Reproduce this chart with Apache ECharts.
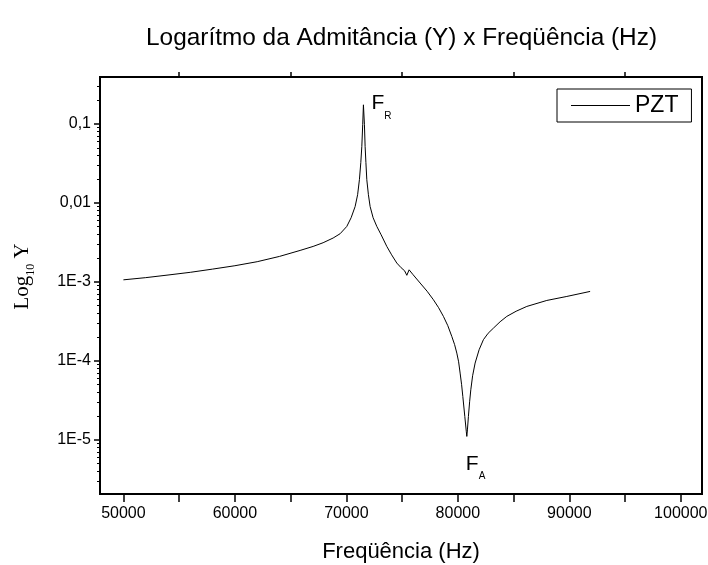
<!DOCTYPE html>
<html>
<head>
<meta charset="utf-8">
<script src="https://cdn.jsdelivr.net/npm/echarts@6/dist/echarts.min.js"></script>
<style>html,body{margin:0;padding:0;background:#fff}#c{width:708px;height:565px}</style>
</head>
<body>
<div id="c"></div>
<script>
// Frequency (Hz)
const freq = [50000, 52000, 54000, 56000, 58000, 60000, 62000, 64000, 65850, 67017, 67914, 68811, 69439, 70040, 70426, 70785, 71009, 71170, 71295, 71385, 71466, 71530, 71619, 71681, 71753, 71833, 71977, 72130, 72399, 72730, 73116, 73627, 74058, 74524, 74910, 75224, 75422, 75628, 75987, 76615, 77243, 77808, 78274, 78705, 79100, 79459, 79710, 79907, 80068, 80203, 80337, 80445, 80624, 80759, 80804, 80858, 80947, 81055, 81162, 81324, 81548, 81907, 82293, 82715, 83190, 83790, 84392, 85226, 86186, 87980, 89774, 91864];
// Admittance Y (PZT)
const admittance = [1.06e-3, 1.13e-3, 1.22e-3, 1.32e-3, 1.45e-3, 1.6e-3, 1.8e-3, 2.1e-3, 2.5e-3, 2.81e-3, 3.13e-3, 3.59e-3, 4.07e-3, 5.04e-3, 6.49e-3, 9.0e-3, 0.0127, 0.0197, 0.0324, 0.052, 0.098, 0.175, 0.098, 0.052, 0.0324, 0.0197, 0.0127, 9.0e-3, 6.49e-3, 5.04e-3, 3.95e-3, 2.81e-3, 2.2e-3, 1.73e-3, 1.51e-3, 1.38e-3, 1.21e-3, 1.42e-3, 1.23e-3, 9.66e-4, 7.6e-4, 5.93e-4, 4.7e-4, 3.65e-4, 2.78e-4, 2.03e-4, 1.6e-4, 1.25e-4, 9.7e-5, 6.98e-5, 4.97e-5, 3.53e-5, 1.97e-5, 1.26e-5, 1.1e-5, 1.33e-5, 1.97e-5, 3.02e-5, 4.29e-5, 6.46e-5, 9.35e-5, 1.38e-4, 1.85e-4, 2.23e-4, 2.59e-4, 3.12e-4, 3.65e-4, 4.24e-4, 4.88e-4, 5.81e-4, 6.53e-4, 7.56e-4];
const seriesName = 'PZT';
// Axis ticks
const xLabelValues = [50000, 60000, 70000, 80000, 90000, 100000];
const xTickValues = [50000, 55000, 60000, 65000, 70000, 75000, 80000, 85000, 90000, 95000, 100000];
const xTopTickValues = [55000, 65000, 75000, 85000, 95000];
const yMajorValues = [1e-5, 1e-4, 1e-3, 1e-2, 1e-1];
const yTickLabels = ['1E-5', '1E-4', '1E-3', '0,01', '0,1'];
const xMin = 47900, xMax = 101900, yMin = 2.05e-6, yMax = 0.394;
// Annotated points
const resonance = [71530, 0.175];
const antiresonance = [80804, 1.1e-5];

const yMinorValues = [];
for (let d = -6; d <= -1; d++) {
  for (let k = 2; k <= 9; k++) {
    const v = k * Math.pow(10, d);
    if (v > yMin && v < yMax) yMinorValues.push(Number(v.toPrecision(3)));
  }
}
const data = freq.map((f, i) => [f, admittance[i]]);
const FONT = '"Liberation Sans", Arial, sans-serif';
const SERIF = '"Liberation Serif", "Times New Roman", serif';

const chart = echarts.init(document.getElementById('c'), null, {renderer: 'canvas'});
chart.setOption({
  animation: false,
  backgroundColor: '#fff',
  title: {
    text: 'Logarítmo da Admitância (Y) x Freqüência (Hz)',
    left: 141, top: 21,
    textStyle: {fontFamily: FONT, fontSize: 24.4, fontWeight: 'normal', color: '#000'}
  },
  legend: {
    data: [seriesName],
    left: 557, top: 89,
    orient: 'vertical',
    itemWidth: 59, itemHeight: 14, itemGap: 0,
    padding: [5, 13, 5, 14],
    borderColor: '#000', borderWidth: 1,
    textStyle: {fontFamily: FONT, fontSize: 23, color: '#000'},
    icon: 'path://M0,0 L59,0 L59,1 L0,1 Z',
    itemStyle: {color: '#000'}
  },
  grid: {left: 100, top: 77, right: 6, bottom: 71, show: true, borderColor: '#000', borderWidth: 2, backgroundColor: 'transparent', containLabel: false, outerBoundsMode: 'none'},
  xAxis: [{
    type: 'value', position: 'bottom', min: xMin, max: xMax,
    name: 'Freqüência (Hz)', nameLocation: 'middle', nameGap: 47,
    nameTextStyle: {fontFamily: FONT, fontSize: 22, color: '#000'},
    axisLine: {show: false},
    axisTick: {show: true, customValues: xTickValues, length: 8, lineStyle: {color: '#000', width: 1.5}},
    axisLabel: {customValues: xLabelValues, formatter: v => String(v), fontFamily: FONT, fontSize: 16, color: '#000', margin: 12},
    splitLine: {show: false}
  }, {
    type: 'value', position: 'top', min: xMin, max: xMax,
    axisLine: {show: false},
    axisTick: {show: true, customValues: xTopTickValues, length: 5, lineStyle: {color: '#000', width: 1.5}},
    axisLabel: {show: false},
    splitLine: {show: false}
  }],
  yAxis: [{
    type: 'log', logBase: 10, position: 'left', min: yMin, max: yMax,
    name: '{p|}{a|Log}{b|10}{a| Y}', nameLocation: 'middle', nameGap: 63,
    nameTextStyle: {
      fontFamily: SERIF, color: '#000',
      rich: {
        a: {fontFamily: SERIF, fontSize: 21, color: '#000', lineHeight: 25, verticalAlign: 'top'},
        b: {fontFamily: SERIF, fontSize: 12, color: '#000', lineHeight: 25, verticalAlign: 'bottom'},
        p: {width: 18, lineHeight: 25}
      }
    },
    axisLine: {show: false},
    axisTick: {show: true, customValues: yMajorValues, length: 6, lineStyle: {color: '#000', width: 1.5}},
    axisLabel: {
      customValues: yMajorValues,
      formatter: v => {
        const i = yMajorValues.findIndex(m => Math.abs(Math.log10(m) - Math.log10(v)) < 1e-6);
        return i >= 0 ? yTickLabels[i] : '';
      },
      fontFamily: FONT, fontSize: 16, color: '#000', margin: 9
    },
    splitLine: {show: false}
  }, {
    type: 'log', logBase: 10, position: 'left', min: yMin, max: yMax,
    axisLine: {show: false},
    axisTick: {show: true, customValues: yMinorValues, length: 3, lineStyle: {color: '#000', width: 1}},
    axisLabel: {show: false},
    splitLine: {show: false}
  }],
  series: [{
    name: seriesName,
    type: 'line',
    xAxisIndex: 0, yAxisIndex: 0,
    data: data,
    showSymbol: false, symbol: 'none',
    lineStyle: {color: '#000', width: 1},
    itemStyle: {color: '#000'},
    markPoint: {
      symbol: 'circle', symbolSize: 0,
      label: {
        show: true,
        position: [0, 0],
        fontFamily: FONT, color: '#000',
        rich: {
          f: {fontFamily: FONT, fontSize: 21, color: '#000', lineHeight: 28, verticalAlign: 'top'},
          s: {fontFamily: FONT, fontSize: 10, color: '#000', lineHeight: 28, verticalAlign: 'bottom'}
        }
      },
      data: [
        {coord: resonance, value: 'R', label: {formatter: '{f|F}{s|R}', offset: [8, -12], align: 'left', verticalAlign: 'top'}},
        {coord: antiresonance, value: 'A', label: {formatter: '{f|F}{s|A}', offset: [-1, 17], align: 'left', verticalAlign: 'top'}}
      ]
    }
  }]
});
</script>
</body>
</html>
